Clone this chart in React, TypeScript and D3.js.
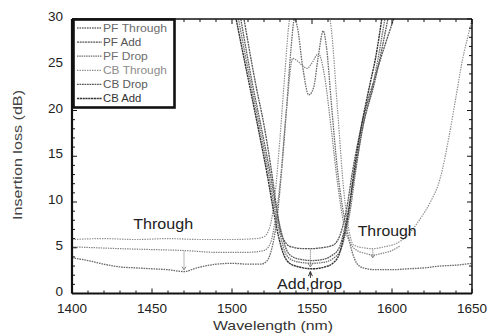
import React from 'react';
import * as d3 from 'd3';

type Pt = [number, number];

// wavelength (nm), insertion loss (dB)
const pfThrough: Pt[] = [
  [1400, 3.9], [1410, 3.6], [1420, 3.2], [1430, 2.9], [1440, 2.8], [1450, 2.7], [1460, 2.6],
  [1470, 2.4], [1478, 2.8], [1490, 3.2], [1500, 3.3], [1510, 3.2], [1518, 3.2], [1522, 3.6],
  [1525, 5], [1528, 8], [1531, 13.4], [1534, 20], [1537, 27], [1539, 30], [1541, 29],
  [1544, 25], [1548, 21.7], [1551, 22.5], [1554, 26], [1557, 28.7], [1559, 27], [1562, 21],
  [1566, 13.4], [1569, 9.5], [1572, 6.8], [1575, 4.6], [1578, 3.3], [1582, 2.8], [1590, 2.6],
  [1600, 2.6], [1610, 2.7], [1620, 2.8], [1630, 3.0], [1640, 3.1], [1650, 3.3],
];
const cbThrough: Pt[] = [
  [1400, 5.9], [1420, 6.0], [1440, 5.9], [1460, 6.0], [1480, 5.9], [1500, 5.9], [1515, 6.0],
  [1520, 6.2], [1524, 7.5], [1527, 11], [1530, 17], [1533, 24], [1536, 30], [1540, 32],
  [1558, 32], [1562, 29], [1566, 20], [1570, 11], [1573, 7], [1576, 5.3], [1582, 5.0],
  [1588, 4.9], [1595, 5.1], [1603, 5.5], [1610, 6.4], [1617, 8.0], [1624, 10], [1630, 12.5],
  [1636, 17.5], [1640, 21.5], [1644, 25.5], [1648, 28.5], [1650, 30],
];
const throughRef: Pt[] = [
  [1400, 5.1], [1415, 5.0], [1430, 4.9], [1450, 4.8], [1470, 4.7], [1490, 4.5], [1510, 4.5],
  [1520, 4.7], [1524, 5.5], [1527, 8], [1530, 12], [1534, 20], [1538, 25.7], [1541, 25.4],
  [1544, 24.9], [1547, 24.6], [1550, 25.2], [1554, 26.2], [1558, 23.6], [1562, 18],
  [1566, 12], [1570, 7.5], [1574, 5.5], [1578, 4.7], [1583, 4.4], [1588, 4.2], [1594, 4.4],
  [1600, 4.7], [1605, 5.2],
];
const pfAdd: Pt[] = [
  [1507, 30.5], [1515, 22.7], [1520, 18.4], [1525, 13], [1528, 9.2], [1530, 7], [1533, 5.7],
  [1537, 5.1], [1545, 4.9], [1550, 4.9], [1556, 5.0], [1562, 5.2], [1566, 5.8], [1569, 7.2],
  [1572, 9.6], [1575, 13], [1581, 18.4], [1590, 24], [1602, 30.5],
];
const pfDrop: Pt[] = [
  [1503.5, 30.5], [1512, 22.7], [1517, 18.4], [1523, 13], [1527, 9], [1530, 6.5], [1533, 4.6],
  [1537, 3.7], [1543, 3.4], [1550, 3.3], [1557, 3.4], [1563, 3.8], [1568, 4.8], [1571, 6.6],
  [1574, 9.2], [1577, 13], [1582, 18.4], [1588, 22.7], [1596, 30.5],
];
const cbDrop: Pt[] = [
  [1505, 30.5], [1513, 22.7], [1518, 18.4], [1524, 13], [1528, 9], [1531, 6.6], [1534, 4.8],
  [1538, 4.0], [1544, 3.7], [1550, 3.6], [1556, 3.7], [1562, 4.1], [1567, 5.0], [1570, 6.8],
  [1573, 9.4], [1576.5, 13], [1582, 18.4], [1589, 23], [1598, 30.5],
];
const cbAdd: Pt[] = [
  [1502, 30.5], [1506, 27], [1511, 22.7], [1516, 18.4], [1522, 13], [1526, 9], [1529, 6.3],
  [1532, 4.4], [1536, 3.3], [1542, 2.9], [1550, 2.7], [1558, 2.9], [1563, 3.3], [1567, 4.3],
  [1570, 6.3], [1573, 9], [1576, 13], [1581, 18.4], [1586, 22.7], [1590, 26], [1594, 30.5],
];

const legendNames = ['PF Through', 'PF Add', 'PF Drop', 'CB Through', 'CB Drop', 'CB Add'];
const xTicks = [1400, 1450, 1500, 1550, 1600, 1650];
const yTicks = [0, 5, 10, 15, 20, 25, 30];

// vertical difference markers: wavelength, from dB, to dB
const markers: [number, number, number][] = [
  [1470, 4.6, 2.6],
  [1549, 4.8, 2.9],
  [1588, 4.8, 3.9],
];

const series = [
  { name: 'PF Through', data: pfThrough, color: '#6a6a6a', dash: '1.6 0.9', w: 1.3 },
  { name: 'PF Add', data: pfAdd, color: '#555', dash: '2 0.7', w: 1.3 },
  { name: 'PF Drop', data: pfDrop, color: '#6e6e6e', dash: '1.5 0.8', w: 1.3 },
  { name: 'CB Through', data: cbThrough, color: '#8c8c8c', dash: '1.4 1.1', w: 1.2 },
  { name: 'CB Drop', data: cbDrop, color: '#5a5a5a', dash: '1.8 0.7', w: 1.3 },
  { name: 'CB Add', data: cbAdd, color: '#333', dash: '2.2 0.6', w: 1.4 },
  { name: '', data: throughRef, color: '#808080', dash: '1.4 1', w: 1.2 },
];

const W = 492;
const H = 333;
const x = d3.scaleLinear().domain([1400, 1650]).range([72, 472]);
const y = d3.scaleLinear().domain([0, 30]).range([293.5, 19]);

const line = d3
  .line<Pt>()
  .x((d) => x(d[0]))
  .y((d) => y(d[1]))
  .curve(d3.curveMonotoneX);

const font = '"Liberation Sans", Arial, Helvetica, sans-serif';

export default function App() {
  const [x0, x1] = x.range();
  const [y0, y1] = y.range();
  const minorX = d3.range(1400, 1651, 10);
  const minorY = d3.range(0, 31, 1);

  return (
    <svg
      width={W}
      height={H}
      style={{ position: 'fixed', left: 0, top: 0, background: '#fff' }}
      fontFamily={font}
    >
      <defs>
        <clipPath id="plot">
          <rect x={x0} y={y1} width={x1 - x0} height={y0 - y1} />
        </clipPath>
      </defs>
      <rect width={W} height={H} fill="#fff" />

      {/* curves */}
      <g clipPath="url(#plot)" fill="none">
        {series.map((s, i) => (
          <path
            key={i}
            d={line(s.data) || ''}
            stroke={s.color}
            strokeWidth={s.w}
            strokeDasharray={s.dash}
          />
        ))}
        {markers.map(([w, a, b], i) => (
          <g key={'m' + i} stroke="#777" strokeWidth={0.9}>
            <line x1={x(w)} x2={x(w)} y1={y(a)} y2={y(b)} strokeDasharray="1.2 0.8" />
            <path d={`M${x(w) - 2},${y(b) - 3} L${x(w)},${y(b)} L${x(w) + 2},${y(b) - 3}`} />
          </g>
        ))}
        <path
          d={`M${x(1549) - 2},${y(2.0) + 1} L${x(1549)},${y(2.4)} L${x(1549) + 2},${y(2.0) + 1} M${x(1549)},${y(2.4)} L${x(1549)},${y(1.7)}`}
          stroke="#333"
          strokeWidth={1}
        />
      </g>

      {/* frame */}
      <g fill="none" stroke="#111">
        <line x1={x0} x2={x1} y1={y1} y2={y1} strokeWidth={1.5} />
        <line x1={x1} x2={x1} y1={y1} y2={y0} strokeWidth={1.5} />
        <line x1={x0} x2={x0} y1={y1} y2={y0} strokeWidth={2.2} />
        <line x1={x0} x2={x1} y1={y0} y2={y0} strokeWidth={2.2} />
      </g>

      {/* ticks */}
      <g stroke="#111" strokeWidth={1}>
        {minorX.map((v) => {
          const len = v % 50 === 0 ? 5 : 3;
          return (
            <g key={'tx' + v}>
              <line x1={x(v)} x2={x(v)} y1={y0} y2={y0 - len} />
              <line x1={x(v)} x2={x(v)} y1={y1} y2={y1 + len} />
            </g>
          );
        })}
        {minorY.map((v) => {
          const len = v % 5 === 0 ? 5 : 3;
          return (
            <g key={'ty' + v}>
              <line x1={x0} x2={x0 + len} y1={y(v)} y2={y(v)} />
              <line x1={x1} x2={x1 - len} y1={y(v)} y2={y(v)} />
            </g>
          );
        })}
      </g>

      {/* tick labels */}
      <g fontSize={13.5} fill="#222">
        {xTicks.map((v) => (
          <text key={'lx' + v} x={x(v)} y={y0 + 19} textAnchor="middle">
            {v}
          </text>
        ))}
        {yTicks.map((v) => (
          <text key={'ly' + v} x={63} y={y(v) + 2} textAnchor="end">
            {v}
          </text>
        ))}
      </g>

      {/* axis titles */}
      <text
        x={273}
        y={330}
        fontSize={13.5}
        fill="#333"
        textAnchor="middle"
        textLength={120}
        lengthAdjust="spacingAndGlyphs"
      >
        Wavelength (nm)
      </text>
      <text
        transform={`translate(22,155) rotate(-90)`}
        fontSize={12.5}
        fill="#444"
        textAnchor="middle"
        textLength={130}
        lengthAdjust="spacingAndGlyphs"
      >
        Insertion loss (dB)
      </text>

      {/* annotations */}
      <g fontSize={14.5} fill="#222">
        <text x={x(1457)} y={y(7.0)} textAnchor="middle" textLength={60} lengthAdjust="spacingAndGlyphs">
          Through
        </text>
        <text x={x(1597)} y={y(6.3)} textAnchor="middle" textLength={59} lengthAdjust="spacingAndGlyphs">
          Through
        </text>
        <text x={x(1548.5)} y={y(0.5)} textAnchor="middle" textLength={65} lengthAdjust="spacingAndGlyphs">
          Add,drop
        </text>
      </g>

      {/* legend */}
      <g>
        <rect x={73.5} y={19.5} width={101} height={88} fill="#fff" stroke="#111" strokeWidth={2.6} />
        {legendNames.map((name, i) => {
          const s = series.find((d) => d.name === name)!;
          const ly = 28 + i * 14.1;
          return (
            <g key={name}>
              <line
                x1={77}
                x2={102}
                y1={ly}
                y2={ly}
                stroke={s.color}
                strokeWidth={s.w}
                strokeDasharray={s.dash}
              />
              <text
                x={103}
                y={ly + 3.8}
                fontSize={10.5}
                fill={s.color}
                textLength={name.length * 6.4}
                lengthAdjust="spacingAndGlyphs"
              >
                {name}
              </text>
            </g>
          );
        })}
      </g>
    </svg>
  );
}
